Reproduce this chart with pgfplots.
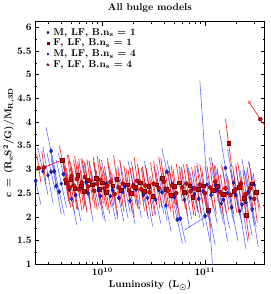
\documentclass[border=0pt]{standalone}
\usepackage{pgfplots}
\usepackage{pgfplotstable}
\pgfplotsset{compat=1.18}
\definecolor{segblue}{RGB}{70,80,255}
\definecolor{segred}{RGB}{255,20,20}
\definecolor{mkred}{RGB}{200,10,10}
\definecolor{mkblue}{RGB}{20,40,230}

% lx = log10(L), y, a = half x-extent (dex), b = half y-extent
\pgfplotstableread{
lx y a b
9.38 3.03 0.02 0.30
9.43 3.04 0.02 0.35
9.64 2.78 0.03 0.45
9.66 2.70 0.03 0.50
9.68 2.62 0.03 0.40
9.70 2.86 0.03 0.45
9.72 2.66 0.03 0.50
9.75 2.80 0.03 0.40
9.77 2.58 0.03 0.45
9.80 2.72 0.03 0.50
9.83 2.84 0.03 0.40
9.86 2.64 0.03 0.50
9.88 2.76 0.03 0.45
9.92 2.55 0.03 0.40
9.95 2.70 0.03 0.45
9.98 2.78 0.03 0.50
10.02 2.60 0.03 0.45
10.05 2.66 0.03 0.40
10.08 2.74 0.03 0.50
10.12 2.48 0.03 0.45
10.16 2.62 0.03 0.40
10.20 2.70 0.03 0.50
10.26 2.56 0.03 0.45
10.30 2.64 0.03 0.40
10.34 2.76 0.03 0.50
10.38 2.58 0.03 0.45
10.42 2.66 0.03 0.40
10.46 2.52 0.03 0.50
10.50 2.70 0.03 0.45
10.55 2.60 0.03 0.40
10.60 2.74 0.03 0.50
10.64 2.55 0.03 0.45
10.68 2.66 0.03 0.40
10.72 2.50 0.03 0.50
10.78 2.62 0.03 0.45
10.82 2.70 0.03 0.40
10.86 2.54 0.03 0.50
10.90 2.60 0.03 0.45
10.95 2.68 0.03 0.40
11.00 2.50 0.03 0.50
11.05 2.62 0.03 0.45
11.10 2.74 0.03 0.40
11.15 2.52 0.03 0.50
11.20 2.60 0.03 0.45
11.25 2.46 0.03 0.40
11.30 2.58 0.03 0.50
11.35 2.70 0.03 0.45
11.40 2.48 0.03 0.50
11.44 2.60 0.03 0.45
11.48 2.38 0.03 0.50
11.54 4.06 0.11 0.36
}\redcirc

\pgfplotstableread{
lx y a b
9.61 3.20 0.03 0.30
9.65 2.72 0.03 0.45
9.69 2.80 0.03 0.50
9.73 2.60 0.03 0.45
9.76 2.88 0.03 0.40
9.79 2.66 0.03 0.50
9.82 2.54 0.03 0.45
9.85 2.78 0.03 0.40
9.90 2.68 0.03 0.50
9.94 2.82 0.03 0.45
9.97 2.58 0.03 0.40
10.00 2.72 0.03 0.50
10.04 2.52 0.03 0.45
10.10 2.66 0.03 0.40
10.14 2.80 0.03 0.50
10.18 2.56 0.03 0.45
10.24 2.68 0.03 0.40
10.28 2.50 0.03 0.50
10.32 2.62 0.03 0.45
10.37 2.72 0.03 0.40
10.41 2.54 0.03 0.50
10.45 2.64 0.03 0.45
10.49 2.44 0.03 0.40
10.53 2.68 0.03 0.50
10.58 2.82 0.03 0.45
10.62 2.58 0.03 0.40
10.67 2.46 0.03 0.50
10.70 2.64 0.03 0.45
10.75 2.72 0.03 0.40
10.80 2.52 0.03 0.50
10.85 2.66 0.03 0.45
10.88 2.42 0.03 0.40
10.93 2.58 0.03 0.50
10.98 2.66 0.03 0.45
11.03 2.14 0.03 0.40
11.08 2.56 0.03 0.50
11.12 2.64 0.03 0.45
11.18 2.48 0.03 0.40
11.23 3.56 0.03 0.50
11.28 2.54 0.03 0.45
11.33 2.62 0.03 0.50
11.38 2.40 0.03 0.45
11.40 2.03 0.03 0.50
11.46 2.70 0.03 0.45
11.50 2.52 0.03 0.40
}\redsq

\pgfplotstableread{
lx y a b
9.35 2.76 0.05 0.50
9.50 3.39 0.05 0.50
9.50 2.95 0.04 0.40
9.53 2.96 0.04 0.50
9.55 2.65 0.05 0.60
9.58 2.53 0.05 0.50
9.62 2.90 0.05 0.45
9.68 2.58 0.05 0.50
9.74 2.46 0.05 0.55
9.80 2.62 0.05 0.50
9.86 2.50 0.05 0.60
9.92 2.68 0.05 0.50
9.98 2.44 0.05 0.55
10.04 2.70 0.05 0.50
10.10 2.56 0.05 0.60
10.16 2.40 0.05 0.50
10.22 2.64 0.05 0.55
10.27 2.34 0.05 0.50
10.33 2.58 0.05 0.60
10.40 2.46 0.05 0.50
10.46 2.62 0.05 0.55
10.52 2.36 0.05 0.50
10.58 2.52 0.05 0.60
10.63 2.95 0.05 0.50
10.70 2.42 0.05 0.55
10.73 1.94 0.05 0.50
10.76 1.96 0.05 0.50
10.82 2.50 0.05 0.55
10.88 2.60 0.05 0.50
10.94 2.38 0.05 0.60
11.00 2.02 0.05 0.55
11.06 2.46 0.06 0.60
11.12 2.56 0.06 0.70
11.18 2.36 0.06 0.60
11.20 3.03 0.06 0.80
11.26 2.20 0.06 0.70
11.30 2.46 0.06 0.60
11.36 2.26 0.06 0.80
11.42 2.52 0.06 0.70
11.46 2.16 0.06 0.80
}\bluedia

\pgfplotstableread{
lx y a b
9.42 2.96 0.05 0.50
9.47 2.88 0.05 0.60
9.60 2.70 0.05 0.50
9.70 2.38 0.05 0.55
9.84 2.72 0.05 0.50
9.96 2.56 0.05 0.60
10.08 2.44 0.05 0.50
10.20 2.52 0.05 0.55
10.30 2.68 0.05 0.50
10.44 2.40 0.05 0.60
10.55 2.56 0.05 0.50
10.62 2.24 0.05 0.55
10.68 2.70 0.05 0.50
10.80 2.36 0.05 0.60
10.90 2.48 0.05 0.50
10.98 2.54 0.06 0.60
11.02 2.68 0.07 2.20
11.04 2.10 0.06 0.70
11.10 2.66 0.06 0.60
11.16 2.28 0.06 0.80
11.22 2.50 0.06 0.60
11.28 2.72 0.06 0.70
11.34 2.12 0.06 0.80
11.40 2.30 0.06 0.70
11.44 2.40 0.06 0.60
11.48 2.68 0.06 0.50
}\bluestar

\begin{document}
\begin{tikzpicture}
\begin{axis}[
  scale only axis,
  width=232pt, height=245pt,
  xmin=9.344, xmax=11.583,
  ymin=1, ymax=6.12,
  xtick={10,11},
  xticklabels={$10^{10}$,$10^{11}$},
  minor xtick={9.4771,9.6021,9.6990,9.7782,9.8451,9.9031,9.9542,10.3010,10.4771,10.6021,10.6990,10.7782,10.8451,10.9031,10.9542,11.3010,11.4771},
  ytick={1,1.5,...,6},
  yticklabels={1,1.5,2,2.5,3,3.5,4,4.5,5,5.5,6},
  minor y tick num=1,
  tick align=inside,
  xtick pos=both, ytick pos=both,
  yticklabel pos=left, xticklabel pos=left,
  major tick length=4pt, minor tick length=2.2pt,
  axis line style={line width=0.8pt},
  every tick/.style={black, line width=0.6pt},
  tick label style={font=\boldmath\bfseries},
  label style={font=\boldmath\bfseries},
  title style={font=\bfseries},
  title={All bulge models},
  xlabel={Luminosity (L$_\odot$)},
  ylabel={$\mathrm{c\,=\,(R_eS^2/G)/M_{R,3D}}$},
  ylabel style={yshift=-4pt},
  xlabel style={yshift=2pt},
  clip=true,
  legend style={draw=none, fill=none, at={(0.045,0.985)}, anchor=north west,
    font=\bfseries\boldmath, row sep=-1.5pt, inner sep=1pt,
    nodes={inner xsep=4pt}},
  legend image post style={scale=0.65},
  legend cell align=left,
]
% error segments
\addplot[segblue, line width=0.6pt, no markers, forget plot, opacity=0.85,
  quiver={u=2*\thisrow{a}, v=-2*\thisrow{b}}]
  table[x expr=\thisrow{lx}-\thisrow{a}, y expr=\thisrow{y}+\thisrow{b}] {\bluedia};
\addplot[segblue, line width=0.6pt, no markers, forget plot, opacity=0.85,
  quiver={u=2*\thisrow{a}, v=-2*\thisrow{b}}]
  table[x expr=\thisrow{lx}-\thisrow{a}, y expr=\thisrow{y}+\thisrow{b}] {\bluestar};
\addplot[segblue, line width=0.6pt, forget plot, opacity=0.85] coordinates {(10.80,1.72) (11.02,2.02)};
\addplot[segred, line width=0.7pt, no markers, forget plot, opacity=0.9,
  quiver={u=2*\thisrow{a}, v=-2*\thisrow{b}}]
  table[x expr=\thisrow{lx}-\thisrow{a}, y expr=\thisrow{y}+\thisrow{b}] {\redsq};
\addplot[segred, line width=0.7pt, no markers, forget plot, opacity=0.9,
  quiver={u=2*\thisrow{a}, v=-2*\thisrow{b}}]
  table[x expr=\thisrow{lx}-\thisrow{a}, y expr=\thisrow{y}+\thisrow{b}] {\redcirc};
\addplot[segred, line width=0.7pt, forget plot] coordinates {(9.36,2.98) (9.61,3.20)};
% markers
\addplot[only marks, mark=diamond*, mark size=2.2pt, mkblue, mark options={fill=mkblue, draw=blue!50!black, line width=0.3pt}]
  table[x=lx, y=y] {\bluedia};
\addlegendentry{M, LF, B.n$_\mathrm{s}$ = 1}
\addplot[only marks, mark=square*, mark size=1.9pt, mkred, mark options={fill=mkred, draw=red!45!black, line width=0.3pt}]
  table[x=lx, y=y] {\redsq};
\addlegendentry{F, LF, B.n$_\mathrm{s}$ = 1}
\addplot[only marks, mark=diamond*, mark size=1.9pt, mkblue, mark options={fill=mkblue, draw=blue!50!black, line width=0.3pt}]
  table[x=lx, y=y] {\bluestar};
\addlegendentry{M, LF, B.n$_\mathrm{s}$ = 4}
\addplot[only marks, mark=*, mark size=2.1pt, mkred, mark options={fill=mkred, draw=red!45!black, line width=0.3pt}]
  table[x=lx, y=y] {\redcirc};
\addlegendentry{F, LF, B.n$_\mathrm{s}$ = 4}
\addplot[only marks, mark=x, mark size=2.3pt, segred, forget plot] coordinates {(11.434,4.42)};
\end{axis}
\path ([xshift=6pt]current axis.north east);
\end{tikzpicture}
\end{document}
